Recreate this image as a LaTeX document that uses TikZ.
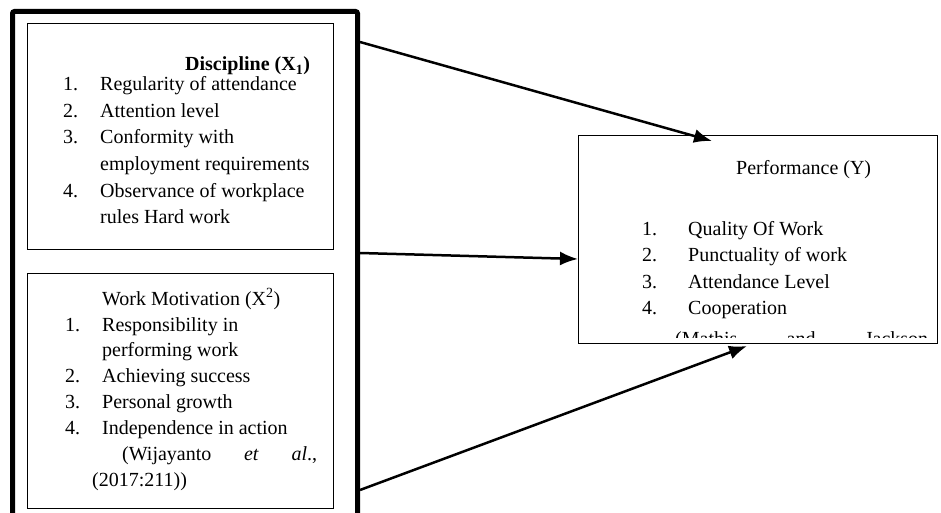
\documentclass[tikz,border=0pt]{standalone}
\usepackage{fontspec}
\setmainfont{Liberation Serif}
\usetikzlibrary{arrows.meta}
\tikzset{
  frame/.style={draw,line width=5pt,rounded corners=2pt,anchor=north west,minimum width=345pt,minimum height=520pt},
  varbox/.style={draw,line width=1.2pt,anchor=north west,inner sep=0pt},
  txt/.style={anchor=base west,inner sep=0pt,font=\fontsize{20}{24}\selectfont},
  link/.style={line width=2.5pt,-{Latex[length=18pt,width=14pt]}},
}
\begin{document}
\begin{tikzpicture}[x=1pt,y=-1pt]
  \clip (0,0) rectangle (941,513);
  % frame round both independent variables
  \node[frame] (frame) at (10,9) {};
  \node[varbox,minimum width=306pt,minimum height=226pt] (disc) at (27,23) {};
  \node[varbox,minimum width=306pt,minimum height=235pt] (motiv) at (27,273) {};
  \node[varbox,minimum width=359pt,minimum height=208pt] (perf) at (578,135) {};
  % discipline
  \node[txt,font=\fontsize{20}{24}\selectfont\bfseries] (disc-head) at (185,71) {Discipline (X\textsubscript{1})};
  \foreach \nr/\entry [count=\i] in {1./Regularity of attendance,2./Attention level,3./Conformity with,/employment requirements,4./Observance of workplace,/rules Hard work}{
    \node[txt] (disc-nr-\i) at (63,{91+(\i-1)*26.5}) {\nr};
    \node[txt] (disc-\i) at (100,{91+(\i-1)*26.5}) {\entry};
  }
  % work motivation
  \node[txt] (motiv-head) at (102,305) {Work Motivation (X\textsuperscript{2})};
  \foreach \nr/\entry [count=\i] in {1./Responsibility in,/performing work,2./Achieving success,3./Personal growth,4./Independence in action}{
    \node[txt] (motiv-nr-\i) at (65,{331+(\i-1)*25.8}) {\nr};
    \node[txt] (motiv-\i) at (102,{331+(\i-1)*25.8}) {\entry};
  }
  \node[txt,text width=195pt] (motiv-src) at (122,460) {(Wijayanto\hfill\textit{et}\hfill\textit{al}.,};
  \node[txt] (motiv-year) at (92,486) {(2017:211))};
  % performance
  \node[txt] (perf-head) at (736,175) {Performance (Y)};
  \foreach \nr/\entry [count=\i] in {1./Quality Of Work,2./Punctuality of work,3./Attendance Level,4./Cooperation}{
    \node[txt] (perf-nr-\i) at (642,{235+(\i-1)*26.6}) {\nr};
    \node[txt] (perf-\i) at (688,{235+(\i-1)*26.6}) {\entry};
  }
  \begin{scope}
    \clip (578,135) rectangle (937,337);
    \node[txt,text width=253pt] (perf-src) at (675,345) {(Mathis\hfill and\hfill Jackson};
  \end{scope}
  % arrows
  \coordinate (t1) at (712,141);
  \coordinate (t3) at (747,346);
  \draw[link] (frame.east |- 0,42) -- (t1);
  \draw[link] (frame.east |- 0,253) -- (perf.west |- 0,259);
  \draw[link] (frame.east |- 0,490) -- (t3);
\end{tikzpicture}
\end{document}
